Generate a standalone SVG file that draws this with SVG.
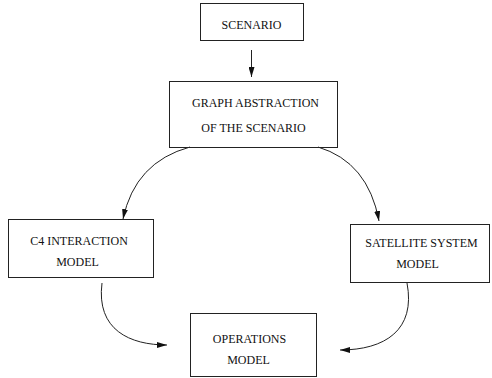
<svg xmlns="http://www.w3.org/2000/svg" width="492" height="378" viewBox="0 0 492 378">
<style>
.box{fill:#fff;stroke:#222;stroke-width:1}
.lbl{font-family:"Liberation Serif","Times New Roman",serif;font-size:12px;fill:#111;text-anchor:middle}
.con{fill:none;stroke:#222;stroke-width:1}
</style>
<defs>
<marker id="ah" viewBox="0 0 10 6" refX="10" refY="3" markerWidth="10" markerHeight="6" markerUnits="userSpaceOnUse" orient="auto">
<path d="M0,0 L10,3 L0,6 z" fill="#111"/>
</marker>
</defs>
<rect width="492" height="378" fill="#fff"/>
<g id="scenario">
<rect class="box" x="200.5" y="3.5" width="103" height="37"/>
<text class="lbl" x="251.5" y="29">SCENARIO</text>
</g>
<g id="graph">
<rect class="box" x="169.5" y="81.5" width="168" height="66"/>
<text class="lbl" x="255.5" y="107">GRAPH ABSTRACTION</text>
<text class="lbl" x="253.5" y="132">OF THE SCENARIO</text>
</g>
<g id="c4">
<rect class="box" x="8.5" y="219.5" width="145" height="58"/>
<text class="lbl" x="79" y="245">C4 INTERACTION</text>
<text class="lbl" x="77.5" y="266">MODEL</text>
</g>
<g id="satellite">
<rect class="box" x="350.5" y="224.5" width="139" height="58"/>
<text class="lbl" x="421.5" y="247">SATELLITE SYSTEM</text>
<text class="lbl" x="417.5" y="268">MODEL</text>
</g>
<g id="operations">
<rect class="box" x="190.5" y="313.5" width="126" height="63"/>
<text class="lbl" x="249.5" y="343">OPERATIONS</text>
<text class="lbl" x="248.5" y="364">MODEL</text>
</g>
<g id="connectors">
<path class="con" d="M251.5,50 L251.5,77" marker-end="url(#ah)"/>
<path class="con" d="M190,147 Q135,162 123,219" marker-end="url(#ah)"/>
<path class="con" d="M318,147 Q368,162 379,221" marker-end="url(#ah)"/>
<path class="con" d="M102,283 C96,330 130,345 167,345" marker-end="url(#ah)"/>
<path class="con" d="M407,283 C416,330 385,350 340,350" marker-end="url(#ah)"/>
</g>
</svg>
